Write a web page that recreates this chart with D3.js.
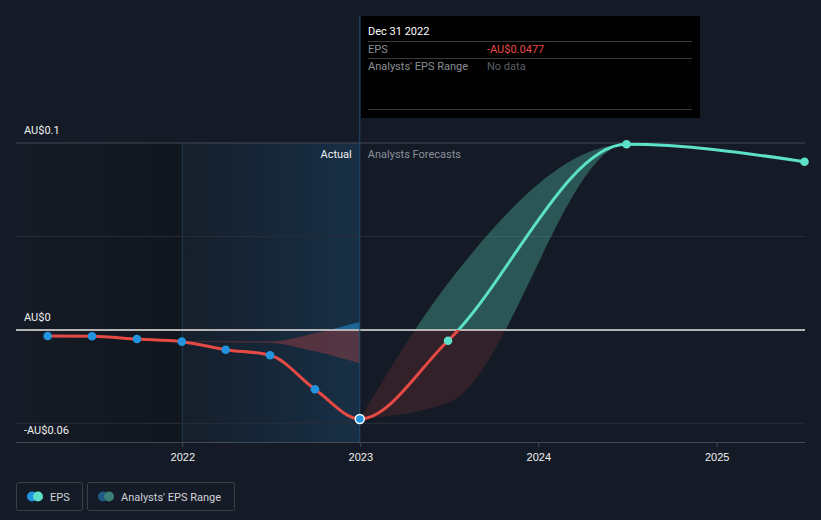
<!DOCTYPE html>
<html>
<head>
<meta charset="utf-8">
<script src="https://cdn.jsdelivr.net/npm/d3@7"></script>
<style>
  html, body { margin: 0; padding: 0; background: #151b26; }
  svg { display: block; font-family: Roboto, "Noto Sans", sans-serif; }
</style>
</head>
<body>
<svg id="chart" width="821" height="520"></svg>
<script>
// EPS history (actual) and analysts' forecasts, AU$
const histDates = ["2021-03-31", "2021-06-30", "2021-09-30", "2021-12-31", "2022-03-31", "2022-06-30", "2022-09-30", "2022-12-31"];
const histEps = [-0.0033, -0.0034, -0.0049, -0.0063, -0.0106, -0.0136, -0.0318, -0.0477];

const fcDates = ["2022-12-31", "2023-06-30", "2024-06-30", "2025-06-30"];
const fcEps = [-0.0477, -0.0058, 0.0993, 0.0900];

const fcRangeDates = ["2022-12-31", "2023-06-30", "2024-06-30", "2025-06-30"];
const fcLow = [-0.0477, -0.0390, 0.0993, 0.0900];
const fcHigh = [-0.0477, 0.0250, 0.0993, 0.0900];

const pastRangeDates = ["2021-12-31", "2022-03-31", "2022-06-30", "2022-09-30", "2022-12-31"];
const pastLow = [-0.0063, -0.0066, -0.0070, -0.0115, -0.0179];
const pastHigh = [-0.0063, -0.0061, -0.0062, -0.0018, 0.0042];

const yTicks = [0.1, 0, -0.06];
const yGrid = [0.1, 0.05, -0.05];
const xTicks = ["2022-01-01", "2023-01-01", "2024-01-01", "2025-01-01"];

const parse = d3.timeParse("%Y-%m-%d");
const width = 821, height = 520;
const margin = { top: 143, right: 16, bottom: 78, left: 16 };

const svg = d3.select("#chart");

const x = d3.scaleTime()
  .domain([parse("2021-01-25"), parse("2025-07-01")])
  .range([margin.left, width - margin.right]);

const y = d3.scaleLinear()
  .domain([-0.06, 0.1])
  .range([height - margin.bottom, margin.top]);

const hist = histDates.map((d, i) => ({ date: parse(d), v: histEps[i] }));
const fc = fcDates.map((d, i) => ({ date: parse(d), v: fcEps[i] }));
const allEps = hist.concat(fc.slice(1));
const fcRange = fcRangeDates.map((d, i) => ({ date: parse(d), lo: fcLow[i], hi: fcHigh[i] }));
const pastRange = pastRangeDates.map((d, i) => ({ date: parse(d), lo: pastLow[i], hi: pastHigh[i] }));

const x0 = margin.left, x1 = width - margin.right;
const yTop = margin.top, yBot = height - margin.bottom;
const today = parse("2022-12-31");
const pastStart = parse("2022-01-01");

// gradients + clips
const defs = svg.append("defs");
const gPast = defs.append("linearGradient").attr("id", "pastGrad");
gPast.append("stop").attr("offset", "0%").attr("stop-color", "#2394df").attr("stop-opacity", 0.03);
gPast.append("stop").attr("offset", "100%").attr("stop-color", "#2394df").attr("stop-opacity", 0.17);
const gLeft = defs.append("linearGradient").attr("id", "leftGrad");
gLeft.append("stop").attr("offset", "0%").attr("stop-color", "#000").attr("stop-opacity", 0.0);
gLeft.append("stop").attr("offset", "100%").attr("stop-color", "#000").attr("stop-opacity", 0.22);

defs.append("clipPath").attr("id", "above")
  .append("rect").attr("x", x0).attr("y", 0).attr("width", x1 - x0).attr("height", y(0));
defs.append("clipPath").attr("id", "below")
  .append("rect").attr("x", x0).attr("y", y(0)).attr("width", x1 - x0).attr("height", height - y(0));

// shaded regions
svg.append("rect")
  .attr("x", x0).attr("y", yTop)
  .attr("width", x(pastStart) - x0).attr("height", yBot - yTop)
  .attr("fill", "url(#leftGrad)");
svg.append("rect")
  .attr("x", x(pastStart)).attr("y", yTop)
  .attr("width", x(today) - x(pastStart)).attr("height", yBot - yTop)
  .attr("fill", "url(#pastGrad)");
svg.append("line")
  .attr("x1", x(pastStart)).attr("x2", x(pastStart))
  .attr("y1", yTop).attr("y2", yBot)
  .attr("stroke", "#1d3a52").attr("stroke-width", 1);

// grid
svg.append("g").selectAll("line").data(yGrid).join("line")
  .attr("x1", x0).attr("x2", x1)
  .attr("y1", d => y(d)).attr("y2", d => y(d))
  .attr("stroke", d => d === 0.1 ? "#434955" : "#282e39")
  .attr("stroke-width", 1);

// bottom axis
const xAxis = svg.append("g")
  .attr("transform", `translate(0,${yBot})`)
  .call(d3.axisBottom(x).tickValues(xTicks.map(parse)).tickFormat(d3.timeFormat("%Y")).tickSize(5).tickPadding(6));
xAxis.select(".domain").attr("stroke", "#434955").attr("d", `M${x0},0.5H${x1}`);
xAxis.selectAll(".tick line").attr("stroke", "#434955");
xAxis.selectAll(".tick text").attr("fill", "#f0f0f0").style("font-size", "11px");

// bands
const band = d3.area()
  .x(d => x(d.date)).y0(d => y(d.lo)).y1(d => y(d.hi))
  .curve(d3.curveMonotoneX);

svg.append("path").datum(pastRange).attr("d", band)
  .attr("fill", "#2394df").attr("fill-opacity", 0.55).attr("clip-path", "url(#above)");
svg.append("path").datum(pastRange).attr("d", band)
  .attr("fill", "#e64a45").attr("fill-opacity", 0.3).attr("clip-path", "url(#below)");
svg.append("path").datum(fcRange).attr("d", band)
  .attr("fill", "#5ce1c8").attr("fill-opacity", 0.3).attr("clip-path", "url(#above)");
svg.append("path").datum(fcRange).attr("d", band)
  .attr("fill", "#e64a45").attr("fill-opacity", 0.15).attr("clip-path", "url(#below)");

// zero line
svg.append("line")
  .attr("x1", x0).attr("x2", x1)
  .attr("y1", y(0)).attr("y2", y(0))
  .attr("stroke", "#b4b4b4").attr("stroke-width", 2);

// today line
svg.append("line")
  .attr("x1", x(today)).attr("x2", x(today))
  .attr("y1", 16).attr("y2", yBot)
  .attr("stroke", "#1f4d72").attr("stroke-width", 1);

// EPS line
const line = d3.line().x(d => x(d.date)).y(d => y(d.v)).curve(d3.curveMonotoneX);
svg.append("path").datum(allEps).attr("d", line)
  .attr("fill", "none").attr("stroke", "#e64a45").attr("stroke-width", 3).attr("clip-path", "url(#below)");
svg.append("path").datum(allEps).attr("d", line)
  .attr("fill", "none").attr("stroke", "#5ce1c8").attr("stroke-width", 3).attr("clip-path", "url(#above)");

// points
svg.append("g").selectAll("circle").data(hist).join("circle")
  .attr("cx", d => x(d.date)).attr("cy", d => y(d.v))
  .attr("r", (d, i) => i === hist.length - 1 ? 4.5 : 4.3)
  .attr("fill", "#2394df")
  .attr("stroke", (d, i) => i === hist.length - 1 ? "#ffffff" : "none")
  .attr("stroke-width", 1.5);
svg.append("g").selectAll("circle").data(fc.slice(1)).join("circle")
  .attr("cx", d => x(d.date)).attr("cy", d => y(d.v))
  .attr("r", 4.3).attr("fill", "#5ce1c8");

// y labels
svg.append("g").selectAll("text").data(yTicks).join("text")
  .attr("x", 24).attr("y", d => d === -0.06 ? y(d) - 8 : y(d) - 9)
  .attr("fill", "#f0f0f0").style("font-size", "11px")
  .text(d => d === 0 ? "AU$0" : (d < 0 ? "-AU$" + Math.abs(d) : "AU$" + d));

// Actual / Forecast labels
svg.append("text").attr("x", x(today) - 8).attr("y", yTop + 15)
  .attr("text-anchor", "end").attr("fill", "#f0f0f0").style("font-size", "11px").text("Actual");
svg.append("text").attr("x", x(today) + 8).attr("y", yTop + 15)
  .attr("fill", "#8a8f98").style("font-size", "11px").text("Analysts Forecasts");

// tooltip
const tip = svg.append("g");
tip.append("rect").attr("x", 361).attr("y", 16).attr("width", 339).attr("height", 102).attr("fill", "#000");
tip.append("text").attr("x", 368).attr("y", 35).attr("fill", "#ffffff").style("font-size", "11px").text("Dec 31 2022");
[41, 58, 109].forEach(ly => tip.append("line")
  .attr("x1", 368).attr("x2", 692).attr("y1", ly + 0.5).attr("y2", ly + 0.5)
  .attr("stroke", "#3a3a3a"));
tip.append("text").attr("x", 368).attr("y", 53).attr("fill", "#8b8f96").style("font-size", "11px").text("EPS");
tip.append("text").attr("x", 487).attr("y", 53).attr("fill", "#e84848").style("font-size", "11px").text("-AU$0.0477");
tip.append("text").attr("x", 368).attr("y", 70).attr("fill", "#8b8f96").style("font-size", "11px").text("Analysts' EPS Range");
tip.append("text").attr("x", 487).attr("y", 70).attr("fill", "#5a5f66").style("font-size", "11px").text("No data");

// legend
const legendItems = [
  { label: "EPS", x: 16, w: 66, c1: "#2394df", c2: "#5ce1c8" },
  { label: "Analysts' EPS Range", x: 87, w: 147, c1: "#1f5a85", c2: "#3b8078" }
];
const lg = svg.append("g").selectAll("g").data(legendItems).join("g")
  .attr("transform", d => `translate(${d.x},482)`);
lg.append("rect").attr("x", 0.5).attr("y", 0.5).attr("width", d => d.w).attr("height", 28)
  .attr("rx", 2).attr("fill", "none").attr("stroke", "#3a3f4a");
lg.append("circle").attr("cx", 16).attr("cy", 14.5).attr("r", 5).attr("fill", d => d.c1);
lg.append("circle").attr("cx", 22).attr("cy", 14.5).attr("r", 5).attr("fill", d => d.c2);
lg.append("text").attr("x", 34).attr("y", 18.5).attr("fill", "#d0d3d8").style("font-size", "11px").text(d => d.label);
</script>
</body>
</html>
